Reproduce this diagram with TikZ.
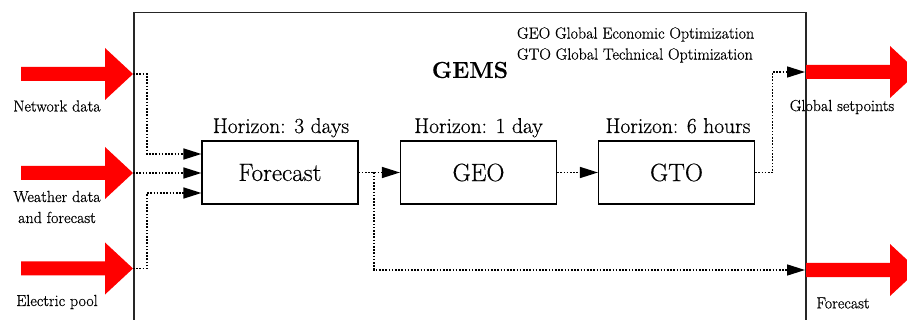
\documentclass[tikz,border=0pt]{standalone}
\usepackage{fontspec}
\setmainfont{Latin Modern Roman}[FakeBold=0.5]
\usetikzlibrary{arrows.meta}
\begin{document}
\begin{tikzpicture}[x=1pt,y=-1pt,
  block/.style={draw, line width=1.2pt, minimum width=156pt, minimum height=63pt,
    inner sep=0pt, font=\fontsize{25}{30}\selectfont},
  frame/.style={draw=black!85, line width=1.5pt, inner sep=0pt},
  link/.style={line width=1.5pt, dash pattern=on 1.6pt off 1.6pt},
  flow/.style={link, -{Triangle[length=18pt,width=11pt]}},
  small/.style={font=\fontsize{16}{21}\selectfont, align=center},
  horizon/.style={font=\fontsize{21.5}{25}\selectfont, anchor=base, inner sep=0pt},
  feed/.pic={\fill[red] (-112,-7) -- (-28,-7) -- (-28,-26) -- (0,0)
                -- (-28,26) -- (-28,7) -- (-112,7) -- cycle;}]

\useasboundingbox (0,0) rectangle (907,320);

% system boundary (runs off the lower edge)
\node[frame, minimum width=672pt, minimum height=330pt, anchor=north west]
  (gems) at (133,12) {};
\node[font=\bfseries\fontsize{23}{28}\selectfont] (title) at (470,70) {GEMS};
\node[small, anchor=west, align=left] (legend) at (513.5,45)
  {GEO Global Economic Optimization\\GTO Global Technical Optimization};

% inputs and outputs at the boundary
\coordinate (in1) at (133,74);
\coordinate (in2) at (133,173);
\coordinate (in3) at (133,268.5);
\coordinate (out1) at (805,72);
\coordinate (out2) at (805,270);

\pic at (in1) {feed};
\pic at (in2) {feed};
\pic at (in3) {feed};
\pic at (918,72) {feed};
\pic at (918,270) {feed};

\node[small] (lnet) at (57,106) {Network data};
\node[small] (lwea) at (57,207) {Weather data\\and forecast};
\node[small] (lpool) at (57,302) {Electric pool};
\node[small] (lset) at (842,107) {Global setpoints};
\node[small] (lfc) at (843,303) {Forecast};

% processing chain
\node[block] (fc) at (280,172.5) {Forecast};
\node[block] (geo) at (478.5,172.5) {GEO};
\node[block] (gto) at (676.5,172.5) {GTO};

\node[horizon] (hfc) at (281,133) {Horizon: 3 days};
\node[horizon] (hgeo) at (478.5,133) {Horizon: 1 day};
\node[horizon] (hgto) at (678,133) {Horizon: 6 hours};

% connectors
\coordinate (j1) at (147,154);
\coordinate (j3) at (147,193);
\coordinate (b) at (374,172.5);
\coordinate (k) at (772.5,72);

\draw[flow] (in1) -| (j1) -- (j1 -| fc.west);
\draw[flow] (in2) -- (in2 -| fc.west);
\draw[flow] (in3) -| (j3) -- (j3 -| fc.west);
\draw[flow] (fc) -- (geo);
\draw[flow] (b) |- (out2);
\draw[flow] (geo) -- (gto);
\draw[flow] (gto.east) -| (k) -- (out1);
\end{tikzpicture}
\end{document}
